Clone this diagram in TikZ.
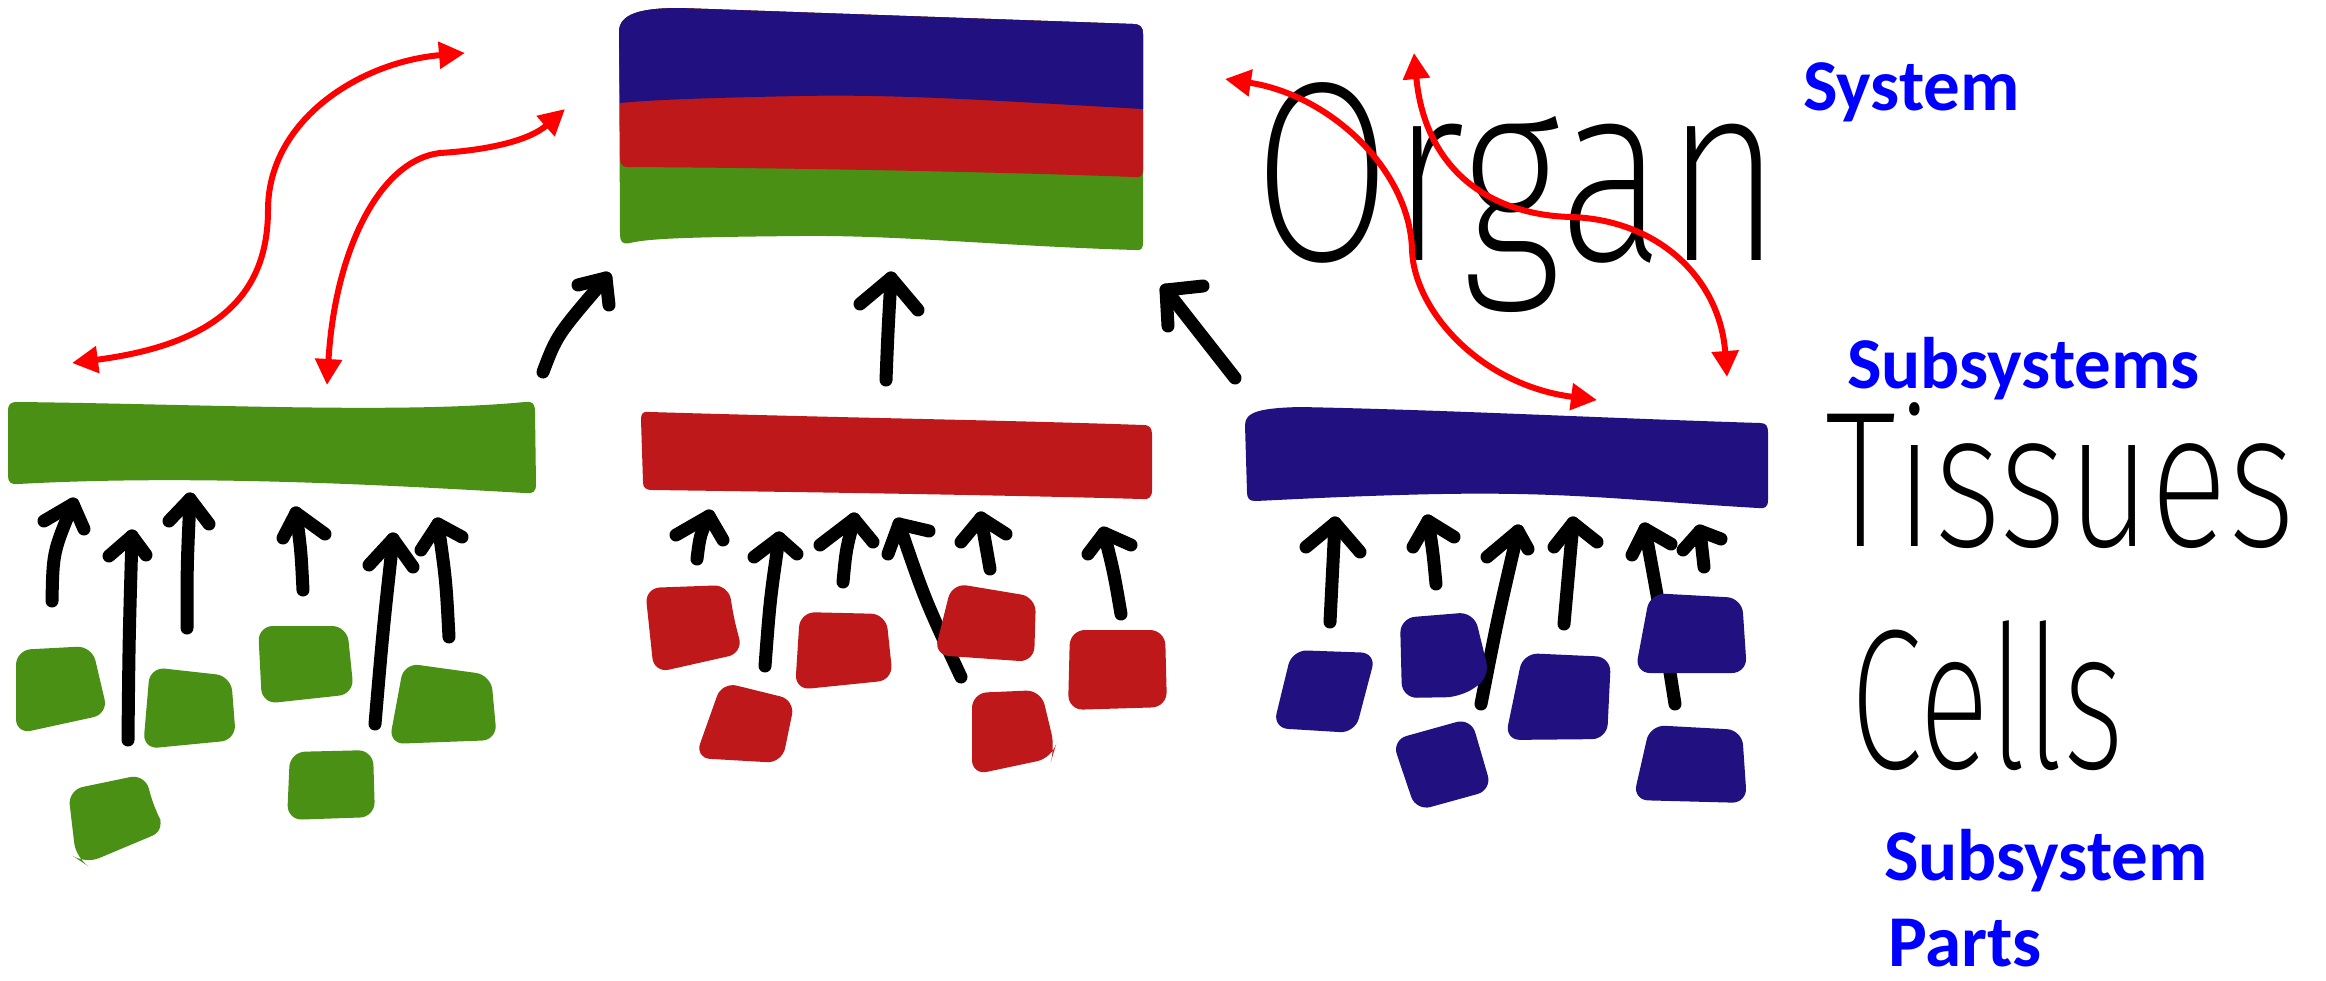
\documentclass[tikz,border=0pt]{standalone}
\usepackage{graphicx}
\usepackage{fontspec}
\usetikzlibrary{arrows.meta}
\newfontfamily\labelfont{Carlito}
% a light face for the hand-lettered level names
\IfFontExistsTF{Fira Sans ExtraLight}{\newfontfamily\handfont{Fira Sans ExtraLight}}{%
\IfFontExistsTF{Fira Sans Light}{\newfontfamily\handfont{Fira Sans Light}}{%
\IfFontExistsTF{Lato Light}{\newfontfamily\handfont{Lato Light}}{%
\IfFontExistsTF{DejaVu Sans ExtraLight}{\newfontfamily\handfont{DejaVu Sans ExtraLight}}{%
\newcommand\handfont{\sffamily}}}}}

\definecolor{orgblue}{RGB}{32,16,128}
\definecolor{orgred}{RGB}{190,24,26}
\definecolor{orggreen}{RGB}{74,144,20}
\definecolor{labelblue}{RGB}{0,0,255}
\definecolor{linkred}{RGB}{255,0,0}

% one black hand-drawn arrow: tail, control, tip, left barb, right barb
\newcommand{\risearrow}[5]{%
  \draw[upstroke] #1 .. controls #2 .. #3;
  \draw[upstroke] #4 -- #3 -- #5;}

\begin{document}
\begin{tikzpicture}[x=1pt,y=-1pt,
  cell/.style={rounded corners=15pt},
  upstroke/.style={line width=13pt,line cap=round,line join=round,draw=black},
  link/.style={draw=linkred,line width=6pt,
    {Triangle[length=26pt,width=26pt]}-{Triangle[length=26pt,width=26pt]}},
  labeltext/.style={font=\labelfont\bfseries\fontsize{73}{80}\selectfont,
    text=labelblue,inner sep=0pt,anchor=base west},
  handtext/.style={inner sep=0pt,anchor=north west}]

\fill[white] (0,0) rectangle (2326,980);
\useasboundingbox (0,0) rectangle (2326,980);

% ---- organ: three stacked layers ----
\fill[orggreen] (619,32) .. controls (619,14) and (640,8) .. (680,8) -- (1133,24)
  .. controls (1140,24) and (1143,27) .. (1143,34) -- (1143,242)
  .. controls (1143,249) and (1141,251) .. (1135,250)
  .. controls (1000,246) and (900,235) .. (800,236)
  .. controls (700,237) and (650,238) .. (630,243)
  .. controls (622,245) and (620,241) .. (620,234) -- cycle;
\fill[orgred] (619,32) .. controls (619,14) and (640,8) .. (680,8) -- (1133,24)
  .. controls (1140,24) and (1143,27) .. (1143,34) -- (1143,170)
  .. controls (1143,176) and (1140,178) .. (1134,177)
  .. controls (1000,172) and (800,168) .. (628,167)
  .. controls (622,167) and (620,164) .. (620,158) -- cycle;
\fill[orgblue] (619,32) .. controls (619,14) and (640,8) .. (680,8) -- (1133,24)
  .. controls (1140,24) and (1143,27) .. (1143,34) -- (1143,109)
  .. controls (1000,101) and (900,94) .. (800,96)
  .. controls (700,98) and (650,100) .. (620,103) -- cycle;

% ---- tissues ----
\fill[orggreen] (8,412) .. controls (8,404) and (10,402) .. (18,402)
  .. controls (200,404) and (400,414) .. (525,402)
  .. controls (533,401) and (535,404) .. (535,412) -- (536,484)
  .. controls (536,492) and (533,494) .. (525,493)
  .. controls (400,486) and (200,474) .. (18,484)
  .. controls (11,485) and (8,482) .. (8,476) -- cycle;
\fill[orgred] (641,420) .. controls (641,413) and (643,411) .. (650,412)
  .. controls (850,418) and (1000,420) .. (1143,425)
  .. controls (1150,425) and (1152,428) .. (1152,435) -- (1152,490)
  .. controls (1152,497) and (1149,500) .. (1142,499)
  .. controls (1000,495) and (800,492) .. (652,490)
  .. controls (645,490) and (643,487) .. (643,482) -- cycle;
\fill[orgblue] (1245,425) .. controls (1245,412) and (1260,408) .. (1300,407)
  .. controls (1450,410) and (1600,418) .. (1760,423)
  .. controls (1766,423) and (1768,426) .. (1768,432) -- (1768,500)
  .. controls (1768,507) and (1765,509) .. (1758,508)
  .. controls (1620,500) and (1560,490) .. (1400,495)
  .. controls (1330,497) and (1280,500) .. (1255,501)
  .. controls (1249,501) and (1247,498) .. (1247,492) -- cycle;

% ---- arrows from tissues to organ ----
\risearrow{(543,372)}{(557,335)}{(606,278)}{(578,285)}{(609,305)}
\risearrow{(886,380)}{(888,330)}{(891,278)}{(860,304)}{(918,310)}
\risearrow{(1235,378)}{(1200,334)}{(1166,290)}{(1203,286)}{(1168,326)}

% ---- arrows from cells to tissues ----
\risearrow{(52,601)}{(53,552)}{(73,504)}{(44,521)}{(84,529)}
\risearrow{(128,740)}{(129,640)}{(132,536)}{(109,556)}{(146,555)}
\risearrow{(187,628)}{(187,565)}{(190,499)}{(169,521)}{(209,524)}
\risearrow{(303,590)}{(301,550)}{(296,513)}{(283,538)}{(325,534)}
\risearrow{(375,724)}{(383,630)}{(393,539)}{(369,565)}{(413,567)}
\risearrow{(449,637)}{(446,580)}{(438,524)}{(421,550)}{(462,537)}

\risearrow{(697,559)}{(700,535)}{(709,516)}{(676,535)}{(723,540)}
\risearrow{(765,666)}{(770,600)}{(779,538)}{(754,557)}{(797,554)}
\risearrow{(843,582)}{(846,550)}{(854,519)}{(820,545)}{(873,542)}
\risearrow{(961,677)}{(925,600)}{(899,524)}{(888,554)}{(929,531)}
\risearrow{(990,569)}{(986,543)}{(981,518)}{(961,542)}{(1006,534)}
\risearrow{(1121,614)}{(1114,573)}{(1104,533)}{(1088,554)}{(1131,545)}

\risearrow{(1330,622)}{(1332,572)}{(1335,523)}{(1306,547)}{(1360,552)}
\risearrow{(1436,584)}{(1433,552)}{(1428,521)}{(1413,547)}{(1454,537)}
\risearrow{(1481,704)}{(1498,617)}{(1518,531)}{(1487,557)}{(1528,549)}
\risearrow{(1564,624)}{(1568,573)}{(1573,523)}{(1554,547)}{(1597,542)}
\risearrow{(1675,704)}{(1661,616)}{(1645,529)}{(1632,555)}{(1671,544)}
\risearrow{(1704,567)}{(1702,549)}{(1700,531)}{(1683,550)}{(1721,539)}

% ---- cells ----
\fill[orggreen,cell] (16,650) -- (92,646) -- (108,714) -- (16,734) -- cycle;
\fill[orggreen,cell] (150,667) -- (231,676) -- (236,740) -- (143,749) -- cycle;
\fill[orggreen,cell] (258,626) -- (347,626) -- (354,694) -- (262,704) -- cycle;
\fill[orggreen,cell] (404,663) -- (491,675) -- (497,740) -- (389,744) -- cycle;
\fill[orggreen,cell] (68,790) -- (145,774) -- (154,808) -- (166,830) -- (85,864) -- (76,858) -- cycle;
\fill[orggreen,cell] (290,752) -- (373,750) -- (375,817) -- (287,820) -- cycle;

\fill[orgred,cell] (645,588) -- (729,585) -- (733,615) -- (743,653) -- (654,673) -- cycle;
\fill[orgred,cell] (800,612) -- (886,614) -- (893,680) -- (795,690) -- cycle;
\fill[orgred,cell] (952,583) -- (1036,597) -- (1034,662) -- (934,655) -- cycle;
\fill[orgred,cell] (1070,630) -- (1165,630) -- (1167,707) -- (1068,710) -- cycle;
\fill[orgred,cell] (722,682) -- (795,700) -- (782,763) -- (695,758) -- cycle;
\fill[orgred,cell] (972,693) -- (1041,690) -- (1055,748) -- (1052,758) -- (972,775) -- cycle;

\fill[orgblue,cell] (1292,650) -- (1376,653) -- (1355,733) -- (1273,728) -- cycle;
\fill[orgblue,cell] (1400,618) -- (1474,612) -- (1490,677) -- (1461,697) -- (1402,698) -- cycle;
\fill[orgblue,cell] (1523,653) -- (1611,657) -- (1607,739) -- (1505,740) -- cycle;
\fill[orgblue,cell] (1392,740) -- (1471,718) -- (1492,790) -- (1416,811) -- cycle;
\fill[orgblue,cell] (1650,593) -- (1742,598) -- (1747,673) -- (1635,673) -- cycle;
\fill[orgblue,cell] (1650,725) -- (1742,730) -- (1747,803) -- (1633,800) -- cycle;

% ---- hand-lettered level names ----
\node[handtext] (organ) at (1253,82) {\resizebox*{528pt}{230pt}{\handfont Organ}};
\node[handtext] (tissues) at (1825,402) {\resizebox*{470pt}{146pt}{\handfont Tissues}};
\node[handtext] (cells) at (1850,620) {\resizebox*{274pt}{150pt}{\handfont Cells}};

% ---- system-level labels ----
\node[labeltext] (system) at (1803,110) {System};
\node[labeltext] (subsystems) at (1847,388) {Subsystems};
\node[labeltext] (subsystem) at (1884,880) {Subsystem};
\node[labeltext] (parts) at (1888,966) {Parts};

% ---- red two-way links ----
\draw[link] (72,363) .. controls (210,345) and (268,300) .. (268,210)
  .. controls (268,120) and (360,62) .. (465,53);
\draw[link] (327,385) .. controls (335,250) and (380,160) .. (440,153)
  .. controls (490,150) and (530,140) .. (565,109);
\draw[link] (1225,79) .. controls (1330,95) and (1410,170) .. (1412,250)
  .. controls (1414,310) and (1480,385) .. (1597,400);
\draw[link] (1414,53) .. controls (1425,170) and (1490,215) .. (1571,217)
  .. controls (1660,220) and (1720,280) .. (1727,377);
\end{tikzpicture}
\end{document}
